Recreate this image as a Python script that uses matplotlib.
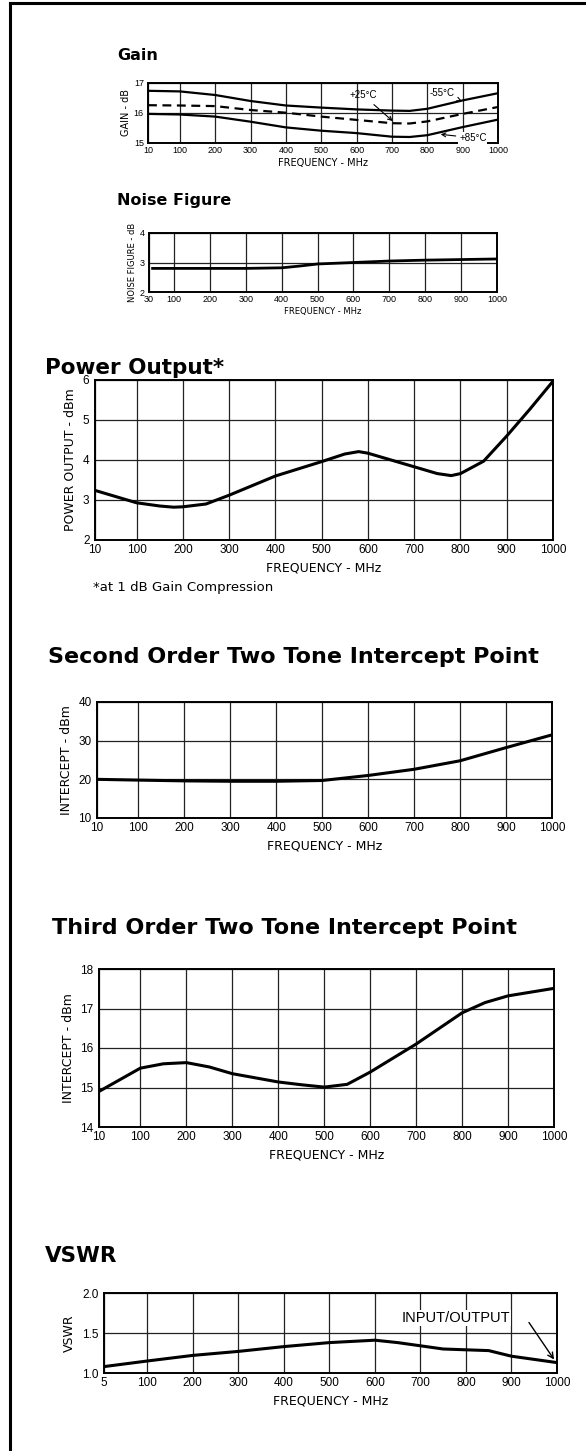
import matplotlib
matplotlib.use("Agg")
import matplotlib.pyplot as plt
from matplotlib.lines import Line2D

# data
gain_freq = [10, 100, 200, 300, 400, 500, 600, 700, 750, 800, 900, 1000]
gain_m55 = [16.74, 16.72, 16.6, 16.4, 16.25, 16.18, 16.12, 16.08, 16.07, 16.14, 16.42, 16.66]
gain_p25 = [16.26, 16.25, 16.23, 16.1, 16.01, 15.88, 15.77, 15.66, 15.65, 15.72, 15.97, 16.2]
gain_p85 = [15.97, 15.95, 15.88, 15.71, 15.52, 15.41, 15.33, 15.21, 15.2, 15.26, 15.53, 15.78]

nf_freq = [40, 100, 200, 300, 400, 450, 500, 600, 700, 800, 900, 1000]
nf_db = [2.8, 2.8, 2.8, 2.8, 2.82, 2.88, 2.95, 3.0, 3.05, 3.08, 3.1, 3.12]

po_freq = [10, 100, 150, 180, 200, 250, 300, 400, 500, 550, 580, 600, 700, 750, 780, 800, 850, 900, 950, 1000]
po_dbm = [3.24, 2.93, 2.85, 2.82, 2.83, 2.9, 3.12, 3.6, 3.96, 4.15, 4.21, 4.17, 3.83, 3.66, 3.61, 3.66, 3.97, 4.6, 5.27, 5.97]

so_freq = [10, 100, 200, 300, 400, 500, 600, 700, 800, 900, 1000]
so_dbm = [20.0, 19.8, 19.6, 19.5, 19.5, 19.7, 21.0, 22.6, 24.8, 28.2, 31.5]

to_freq = [10, 100, 150, 200, 250, 300, 400, 450, 500, 550, 600, 700, 800, 850, 900, 1000]
to_dbm = [14.9, 15.49, 15.6, 15.63, 15.52, 15.35, 15.14, 15.07, 15.01, 15.08, 15.39, 16.1, 16.89, 17.15, 17.32, 17.51]

vswr_freq = [5, 100, 200, 300, 400, 500, 600, 650, 700, 750, 800, 850, 900, 1000]
vswr_val = [1.08, 1.15, 1.22, 1.27, 1.33, 1.38, 1.41, 1.38, 1.34, 1.30, 1.29, 1.28, 1.21, 1.13]

freq_ticks = [100, 200, 300, 400, 500, 600, 700, 800, 900, 1000]

TICKF = ['Liberation Sans', 'DejaVu Sans']
LABF = ['DejaVu Sans']

W, H = 586, 1451
fig = plt.figure(figsize=(W / 100, H / 100), dpi=100)


def rect(l, t, r, b):
    return [l / W, 1 - b / H, (r - l) / W, (b - t) / H]


def setup(ax, first, yticks, ylabels, ylabel, fs, lfs, pad, lpad):
    ax.set_xlim(first, 1000)
    ax.set_ylim(yticks[0], yticks[-1])
    ax.set_xticks([first] + freq_ticks)
    ax.set_xticklabels([str(first)] + [str(t) for t in freq_ticks], fontsize=fs, family=TICKF)
    ax.set_yticks(yticks)
    ax.set_yticklabels(ylabels, fontsize=fs, family=TICKF)
    ax.tick_params(axis='x', length=0, pad=pad)
    ax.tick_params(axis='y', length=0, pad=pad + 1)
    ax.grid(True, color='#222222', linewidth=0.9)
    ax.set_axisbelow(True)
    for s in ax.spines.values():
        s.set_linewidth(1.4)
    ax.set_ylabel(ylabel, fontsize=lfs, labelpad=lpad, family=LABF)
    ax.set_xlabel('FREQUENCY - MHz', fontsize=lfs, labelpad=lpad, family=LABF)


# Gain
ax = fig.add_axes(rect(148, 83, 498, 143))
setup(ax, 10, [15, 16, 17], ['15', '16', '17'], 'GAIN - dB', 6.5, 7, 2, 2)
ax.plot(gain_freq, gain_m55, color='black', lw=1.6)
ax.plot(gain_freq, gain_p25, color='black', lw=1.6, ls=(0, (4, 2.5)))
ax.plot(gain_freq, gain_p85, color='black', lw=1.6)
ax.annotate('+25°C', xy=(708, 15.67), xytext=(618, 16.6), fontsize=7, family=TICKF,
            ha='center', va='center',
            arrowprops=dict(arrowstyle='->', color='black', lw=0.8))
ax.annotate('-55°C', xy=(905, 16.36), xytext=(842, 16.67), fontsize=7, family=TICKF,
            ha='center', va='center',
            arrowprops=dict(arrowstyle='->', color='black', lw=0.8))
ax.annotate('+85°C', xy=(830, 15.3), xytext=(929, 15.17), fontsize=7, family=TICKF,
            ha='center', va='center',
            bbox=dict(facecolor='white', edgecolor='none', pad=0.5),
            arrowprops=dict(arrowstyle='->', color='black', lw=0.8))
fig.text(117 / W, 1 - 56 / H, 'Gain', fontsize=11.5, fontweight='bold', va='center')

# Noise figure
ax = fig.add_axes(rect(149, 233, 497, 292))
setup(ax, 30, [2, 3, 4], ['2', '3', '4'], 'NOISE FIGURE - dB', 6.5, 6, 2, 2)
ax.plot(nf_freq, nf_db, color='black', lw=2)
fig.text(117 / W, 1 - 200 / H, 'Noise Figure', fontsize=11.5, fontweight='bold', va='center')

# Power output
ax = fig.add_axes(rect(95, 380, 553, 540))
setup(ax, 10, [2, 3, 4, 5, 6], ['2', '3', '4', '5', '6'], 'POWER OUTPUT - dBm', 8.5, 9, 3, 4)
ax.plot(po_freq, po_dbm, color='black', lw=2.2)
fig.text(45 / W, 1 - 368 / H, 'Power Output*', fontsize=15.5, fontweight='bold', va='center')
fig.text(93 / W, 1 - 588 / H, '*at 1 dB Gain Compression', fontsize=9.5, va='center')

# Second order intercept
ax = fig.add_axes(rect(97, 702, 552, 818))
setup(ax, 10, [10, 20, 30, 40], ['10', '20', '30', '40'], 'INTERCEPT - dBm', 8.5, 9, 3, 4)
ax.plot(so_freq, so_dbm, color='black', lw=2.2)
fig.text(48 / W, 1 - 657 / H, 'Second Order Two Tone Intercept Point', fontsize=16,
         fontweight='bold', va='center')

# Third order intercept
ax = fig.add_axes(rect(99, 969, 554, 1127))
setup(ax, 10, [14, 15, 16, 17, 18], ['14', '15', '16', '17', '18'], 'INTERCEPT - dBm', 8.5, 9, 3, 4)
ax.plot(to_freq, to_dbm, color='black', lw=2.2)
fig.text(52 / W, 1 - 928 / H, 'Third Order Two Tone Intercept Point', fontsize=16,
         fontweight='bold', va='center')

# VSWR
ax = fig.add_axes(rect(104, 1293, 557, 1373))
setup(ax, 5, [1.0, 1.5, 2.0], ['1.0', '1.5', '2.0'], 'VSWR', 8.5, 9, 3, 4)
ax.plot(vswr_freq, vswr_val, color='black', lw=2.2)
ax.text(778, 1.69, 'INPUT/OUTPUT', fontsize=10.5, ha='center', va='center',
        family=['Liberation Sans', 'DejaVu Sans'],
        bbox=dict(facecolor='white', edgecolor='none', pad=0.5))
ax.annotate('', xy=(997, 1.14), xytext=(935, 1.66),
            arrowprops=dict(arrowstyle='->', color='black', lw=1.0))
fig.text(45 / W, 1 - 1256 / H, 'VSWR', fontsize=15.5, fontweight='bold', va='center')

# page frame
fig.add_artist(Line2D([10 / W, 10 / W], [0, 1 - 3 / H], color='black', lw=2.2))
fig.add_artist(Line2D([10 / W, 1], [1 - 3 / H, 1 - 3 / H], color='black', lw=2.2))

fig.savefig('out.png', dpi=100)
